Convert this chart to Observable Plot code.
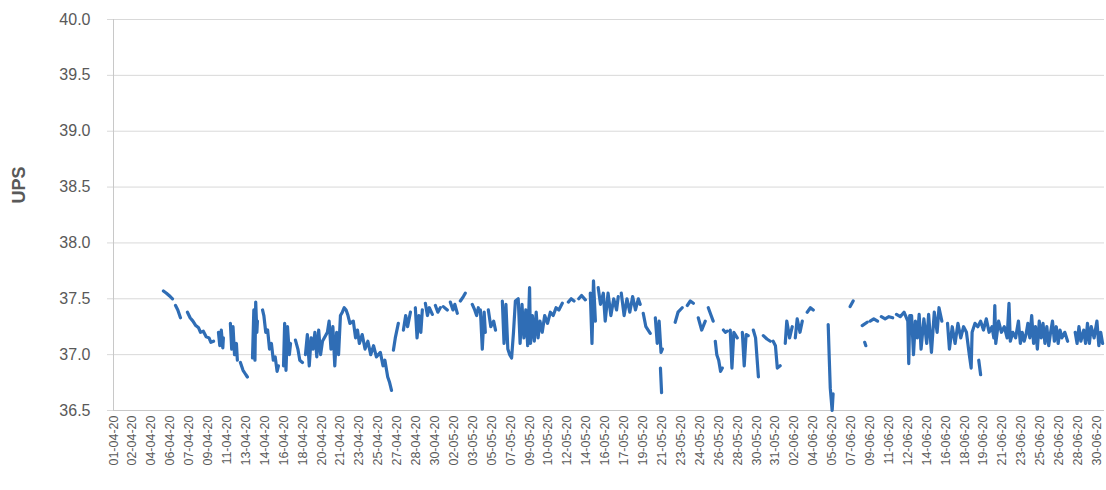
<!DOCTYPE html>
<html>
<head>
<meta charset="utf-8">
<script src="https://cdn.jsdelivr.net/npm/d3@7"></script>
<script src="https://cdn.jsdelivr.net/npm/@observablehq/plot@0.6"></script>
<style>
  html, body { margin: 0; padding: 0; background: #fff; }
  #wrap { position: relative; width: 1106px; height: 490px; }
  #ylab { position: absolute; left: 19px; top: 185px; transform: translate(-50%, -50%) rotate(-90deg);
          font: bold 18px "Liberation Sans", Arial, sans-serif; color: #595959; white-space: nowrap; }
</style>
</head>
<body>
<div id="wrap"><div id="ylab">UPS</div></div>
<script>
// Category labels shown on the x axis (one per label slot)
const dateLabels = [
  "01-04-20","02-04-20","04-04-20","06-04-20","07-04-20","09-04-20","11-04-20","13-04-20","14-04-20",
  "16-04-20","18-04-20","20-04-20","21-04-20","23-04-20","25-04-20","27-04-20","28-04-20","30-04-20",
  "02-05-20","03-05-20","05-05-20","07-05-20","09-05-20","10-05-20","12-05-20","14-05-20","16-05-20",
  "17-05-20","19-05-20","21-05-20","23-05-20","24-05-20","26-05-20","28-05-20","30-05-20","31-05-20",
  "02-06-20","04-06-20","05-06-20","07-06-20","09-06-20","11-06-20","12-06-20","14-06-20","16-06-20",
  "18-06-20","19-06-20","21-06-20","23-06-20","25-06-20","26-06-20","28-06-20","30-06-20"
];
// Y axis ticks
const yTicks = [36.5, 37.0, 37.5, 38.0, 38.5, 39.0, 39.5, 40.0];
// Readings: [position on the category axis (label slots), UPS value]; null = gap in the record
const readings = [
  [2.64,37.57],[2.8,37.55],[3.0,37.52],[3.12,37.50], null,
  [3.28,37.44],[3.4,37.40],[3.54,37.33], null,
  [3.91,37.38],[4.05,37.33],[4.2,37.30],[4.35,37.26],[4.5,37.24],[4.6,37.20],[4.75,37.21],[4.9,37.16],[5.05,37.15],[5.15,37.11],[5.29,37.12], null,
  [5.55,37.2],[5.62,37.08],[5.7,37.22],[5.78,37.06],[5.81,37.15], null,
  [6.18,37.28],[6.25,37.05],[6.32,37.25],[6.4,37.0],[6.5,37.1],[6.55,36.95], null,
  [6.71,36.93],[6.85,36.86],[7.0,36.82],[7.08,36.80], null,
  [7.35,36.97],[7.42,37.40],[7.48,36.95],[7.52,37.47],[7.58,37.2],[7.61,37.3], null,
  [7.88,37.40],[7.95,37.35],[8.05,37.2],[8.15,37.22],[8.25,37.05],[8.35,37.1],[8.45,36.95],[8.55,36.98],[8.65,36.85],[8.72,36.9], null,
  [8.99,36.9],[9.05,37.28],[9.12,36.86],[9.2,37.25],[9.3,37.0],[9.36,37.1], null,
  [9.62,37.13],[9.75,37.05],[9.85,36.95],[9.99,36.93], null,
  [10.15,37.0],[10.25,37.18],[10.35,36.9],[10.45,37.15],[10.55,37.05],[10.65,37.2],[10.75,36.98],[10.85,37.22],[10.95,37.0],[11.05,37.12],
  [11.31,37.2],[11.4,37.3],[11.5,37.05],[11.6,37.25],[11.7,36.9],[11.8,37.2],[11.9,37.0],[12.0,37.35],
  [12.1,37.38],[12.2,37.42],[12.3,37.4],[12.4,37.35],[12.5,37.28],[12.68,37.3],[12.8,37.15],[12.9,37.22],[13.0,37.1],
  [13.15,37.18],[13.3,37.05],[13.45,37.12],[13.6,37.0],[13.75,37.08],[13.9,36.98],[14.11,37.02],
  [14.25,36.9],[14.35,36.95],[14.5,36.8],[14.6,36.75],[14.7,36.68], null,
  [14.8,37.04],[14.9,37.15],[15.06,37.28], null,
  [15.33,37.22],[15.45,37.35],[15.55,37.25],[15.7,37.38], null,
  [15.96,37.42],[16.05,37.15],[16.15,37.35],[16.25,37.2],[16.33,37.4], null,
  [16.49,37.46],[16.6,37.35],[16.7,37.42],[16.86,37.36], null,
  [17.02,37.44],[17.15,37.38],[17.28,37.42], null,
  [17.44,37.43],[17.65,37.40], null,
  [17.81,37.47],[17.95,37.40],[18.05,37.45],[18.18,37.37], null,
  [18.34,37.48],[18.5,37.52],[18.6,37.55], null,
  [18.97,37.45],[19.1,37.40],[19.2,37.35],[19.29,37.42], null,
  [19.4,37.40],[19.5,37.05],[19.6,37.38],[19.66,37.2], null,
  [19.82,37.40],[19.95,37.25],[20.1,37.3],[20.2,37.22], null,
  [20.56,37.48],[20.65,37.10],[20.75,37.45],[20.85,37.05],[20.95,37.0],[21.05,36.97],[21.15,37.2],[21.25,37.48],
  [21.4,37.5],[21.5,37.1],[21.6,37.45],[21.7,37.15],[21.8,37.4],[21.9,37.08],[22.0,37.6],[22.05,37.1],[22.15,37.35],
  [22.25,37.12],[22.35,37.38],[22.45,37.15],[22.55,37.3],[22.67,37.2],[22.8,37.35],[22.95,37.28],[23.1,37.38],
  [23.25,37.35],[23.4,37.42],[23.55,37.4],[23.73,37.46], null,
  [24.05,37.47],[24.2,37.5],[24.35,37.48], null,
  [24.6,37.5],[24.75,37.53],[24.95,37.49], null,
  [25.21,37.55],[25.3,37.10],[25.38,37.66],[25.48,37.3], null,
  [25.63,37.6],[25.75,37.45],[25.9,37.55],[26.0,37.3],[26.15,37.55],[26.3,37.35],[26.45,37.5],[26.6,37.4],[26.69,37.52], null,
  [26.85,37.55],[27.0,37.35],[27.15,37.5],[27.3,37.38],[27.45,37.52],[27.6,37.4],[27.75,37.5],[27.85,37.45], null,
  [28.01,37.37],[28.15,37.25],[28.38,37.19], null,
  [28.65,37.33],[28.75,37.1],[28.85,37.3],[28.95,37.02],[29.02,37.05], null,
  [28.92,36.88],[28.98,36.66], null,
  [29.7,37.29],[29.85,37.38],[30.07,37.42], null,
  [30.34,37.44],[30.5,37.48],[30.66,37.46], null,
  [30.92,37.33],[31.1,37.22],[31.29,37.3], null,
  [31.45,37.42],[31.6,37.35],[31.71,37.3], null,
  [31.82,37.12],[31.9,37.0],[32.0,36.95],[32.1,36.85],[32.19,36.88], null,
  [32.25,37.22],[32.35,37.2],[32.45,37.21], null,
  [32.61,37.22],[32.7,36.88],[32.8,37.2],[32.98,37.15], null,
  [33.25,37.2],[33.35,36.9],[33.45,37.18],[33.56,37.17], null,
  [33.83,37.22],[33.95,37.15],[34.1,36.8], null,
  [34.36,37.17],[34.55,37.14],[34.73,37.12], null,
  [34.88,37.12],[35.0,37.08],[35.1,36.88],[35.25,36.9], null,
  [35.52,37.1],[35.6,37.3],[35.75,37.15],[35.89,37.25], null,
  [36.05,37.15],[36.15,37.32],[36.3,37.2],[36.42,37.3], null,
  [36.68,37.38],[36.85,37.42],[37.0,37.4], null,
  [37.79,37.27],[37.85,36.95],[37.9,36.7],[37.95,36.6],[38.0,36.5],[38.05,36.65], null,
  [38.95,37.43],[39.11,37.48], null,
  [39.59,37.26],[39.85,37.29], null,
  [39.72,37.11],[39.78,37.08], null,
  [40.01,37.3],[40.2,37.32],[40.4,37.3], null,
  [40.6,37.34],[40.8,37.32],[41.0,37.34],[41.2,37.33], null,
  [41.4,37.36],[41.6,37.34],[41.8,37.38],[42.0,37.30],[42.05,36.92],[42.1,37.35],
  [42.2,37.35],[42.3,37.0],[42.4,37.3],[42.5,37.15],[42.6,37.36],[42.7,37.05],[42.85,37.32],[43.0,37.1],[43.1,37.36],
  [43.25,37.02],[43.4,37.38],[43.55,37.2],[43.65,37.42],[43.8,37.3], null,
  [44.1,37.28],[44.2,37.05],[44.35,37.25],[44.5,37.1],[44.65,37.28],[44.8,37.15],[44.95,37.25],[45.1,37.2],[45.25,37.0],[45.35,36.88],[45.4,37.2],
  [45.55,37.28],[45.7,37.25],[45.85,37.3],[46.0,37.22],[46.15,37.32],[46.3,37.2],[46.45,37.25],[46.55,37.15],[46.6,37.44],
  [46.65,37.1],[46.8,37.3],[46.95,37.2],[47.1,37.25],[47.25,37.15],[47.35,37.46],[47.42,37.12],[47.55,37.2],[47.7,37.15],
  [47.85,37.3],[47.95,37.1],[48.05,37.2],[48.15,37.12],[48.25,37.18],[48.35,37.28],[48.45,37.15],[48.55,37.35],[48.65,37.1],
  [48.75,37.25],[48.85,37.05],[48.95,37.3],[49.05,37.15],[49.15,37.28],[49.25,37.1],[49.35,37.25],[49.45,37.08],[49.55,37.2],
  [49.65,37.3],[49.75,37.12],[49.85,37.25],[49.95,37.1],[50.05,37.22],[50.15,37.15],[50.3,37.2],[50.45,37.12], null,
  [45.75,36.95],[45.85,36.82], null,
  [50.85,37.2],[50.95,37.1],[51.05,37.25],[51.15,37.12],[51.3,37.22],[51.4,37.1],[51.5,37.28],[51.6,37.1],[51.7,37.25],
  [51.85,37.15],[52.0,37.3],[52.1,37.08],[52.2,37.2],[52.3,37.1]
];

const data = readings.map(r => r ? {pos: r[0], ups: r[1]} : {pos: NaN, ups: NaN});
const grey = "#595959";

const chart = Plot.plot({
  width: 1106,
  height: 490,
  marginLeft: 113,
  marginRight: 2,
  marginTop: 19,
  marginBottom: 80,
  style: {fontFamily: "'Liberation Sans', Arial, sans-serif", background: "#fff", color: grey},
  x: {type: "linear", domain: [0, 52.4]},
  y: {domain: [36.5, 40.0]},
  marks: [
    Plot.gridY(yTicks, {stroke: "#d9d9d9", strokeOpacity: 1, strokeWidth: 1}),
    Plot.axisY({ticks: yTicks, tickFormat: d => d.toFixed(1), tickSize: 6, tickPadding: 17,
      fontSize: 16, stroke: "#d9d9d9", label: null, color: grey}),
    Plot.axisX({ticks: d3.range(dateLabels.length), tickFormat: i => dateLabels[i], tickRotate: -90,
      tickSize: 0, tickPadding: 5, fontSize: 12.5, label: null, color: grey}),
    Plot.ruleX([0], {stroke: "#c8c8c8", strokeWidth: 1}),
    Plot.ruleY([36.5], {stroke: "#c8c8c8", strokeWidth: 1}),
    Plot.line(data, {x: "pos", y: "ups", stroke: "#2f6db5", strokeWidth: 3.2, strokeLinejoin: "round", strokeLinecap: "round"})
  ]
});
chart.style.position = "absolute";
chart.style.left = "0";
chart.style.top = "0";
document.getElementById("wrap").prepend(chart);
</script>
</body>
</html>
